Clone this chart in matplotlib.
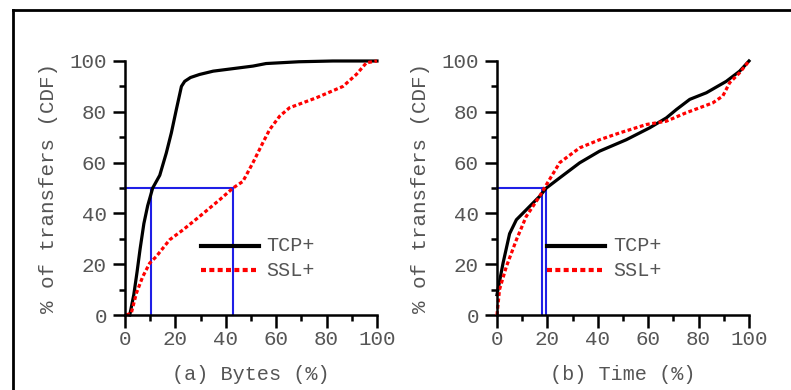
import matplotlib
matplotlib.use("Agg")
import matplotlib.pyplot as plt
from matplotlib.lines import Line2D
from matplotlib.ticker import MultipleLocator

# (a) Bytes
bytes_tcp_x = [1.9, 3.5, 4.8, 6, 7.5, 9, 11, 13.8, 16.4, 18.4, 20.4, 22.4, 23.7, 26, 29.6, 35, 42.9, 50.8, 56, 69, 82.5, 100]
bytes_tcp_y = [0, 8, 17, 26, 36, 43, 50, 55, 63.8, 71.7, 81, 90, 92, 93.5, 94.7, 96, 97, 98, 99, 99.7, 100, 100]
bytes_ssl_x = [0.5, 2.5, 4.5, 7, 9.8, 12.4, 17.7, 23, 29.6, 37.6, 42.9, 46.8, 50.8, 54.7, 57.4, 61.4, 65.3, 75.9, 86.5, 91.8, 95.8, 100]
bytes_ssl_y = [0, 0.7, 8.5, 15, 20.4, 23, 29.6, 33.5, 38.8, 45.4, 50, 52.6, 60, 67.8, 73, 78.3, 81.6, 85.5, 90, 94.7, 99.3, 100]

# (b) Time
time_tcp_x = [0, 0.4, 2.4, 5, 7.7, 11.6, 16.9, 19.6, 24.9, 32.8, 40.7, 51.3, 60.6, 67.2, 71.2, 76.5, 83.1, 91, 96.3, 100]
time_tcp_y = [8, 10, 20.4, 32, 37.5, 41.4, 46.7, 50, 54, 59.9, 64.5, 69, 73.7, 77.6, 80.9, 84.9, 87.5, 92, 96, 100]
time_ssl_x = [0, 1, 3.7, 7.7, 11.6, 16.9, 19.6, 24.9, 32.8, 40.7, 48.7, 59.3, 67.2, 75, 85.6, 89.6, 92.3, 96.3, 100]
time_ssl_y = [0, 10, 19, 29.6, 38.8, 46.7, 51.3, 60, 65.8, 69, 71.7, 75, 76.3, 79.6, 83.5, 86.2, 91.4, 95.4, 100]

# median guides: vertical x positions (horizontal runs to the largest)
bytes_medians = [10.5, 43]
time_medians = [17.7, 19.3]

panels = [
    ("(a) Bytes (%)", bytes_tcp_x, bytes_tcp_y, bytes_ssl_x, bytes_ssl_y, bytes_medians, (30, 53, 56)),
    ("(b) Time (%)", time_tcp_x, time_tcp_y, time_ssl_x, time_ssl_y, time_medians, (19.7, 43, 46)),
]

mono = "Liberation Mono"
grey = "#555555"

fig = plt.figure(figsize=(7.91, 3.90), dpi=100)
fig.add_artist(Line2D([0.0170, 0.0170], [-0.1, 0.975], transform=fig.transFigure, color="black", lw=2))
fig.add_artist(Line2D([0.0170, 1.1], [0.975, 0.975], transform=fig.transFigure, color="black", lw=2))

lefts = [0.158, 0.6283]
for left, (xlabel, tx, ty, sx, sy, med, leg) in zip(lefts, panels):
    ax = fig.add_axes([left, 0.1923, 0.3186, 0.6513])
    for s in ("top", "right"):
        ax.spines[s].set_visible(False)
    for s in ("left", "bottom"):
        ax.spines[s].set_linewidth(1.8)
    ax.set_xlim(0, 100)
    ax.set_ylim(0, 100)

    # blue median guides
    ax.plot([0, max(med)], [50, 50], color="#1f1fe6", lw=1.5, clip_on=False)
    for m in med:
        ax.plot([m, m], [0, 50], color="#1f1fe6", lw=1.5, clip_on=False)

    ax.plot(tx, ty, color="black", lw=2.3, clip_on=False)
    ax.plot(sx, sy, color="red", lw=2.3, ls=(0, (1.2, 0.8)), clip_on=False)

    # hand-placed legend
    x0, x1, xt = leg
    ax.plot([x0, x1], [27.2, 27.2], color="black", lw=3)
    ax.plot([x0, x1], [17.7, 17.7], color="red", lw=3, ls=(0, (1.2, 0.8)))
    ax.text(xt, 27.2, "TCP+", fontsize=14.5, family=mono, color=grey, va="center")
    ax.text(xt, 17.7, "SSL+", fontsize=14.5, family=mono, color=grey, va="center")

    ax.xaxis.set_major_locator(MultipleLocator(20))
    ax.xaxis.set_minor_locator(MultipleLocator(10))
    ax.yaxis.set_major_locator(MultipleLocator(20))
    ax.yaxis.set_minor_locator(MultipleLocator(10))
    ax.tick_params(which="major", direction="out", length=9, width=1.8, labelsize=15, labelcolor=grey)
    ax.tick_params(which="minor", direction="out", length=4, width=1.8)
    ax.tick_params(axis="x", pad=2)
    ax.tick_params(axis="y", pad=4)
    for lab in ax.get_xticklabels() + ax.get_yticklabels():
        lab.set_family(mono)
    ax.set_xlabel(xlabel, family=mono, fontsize=14.5, color=grey, labelpad=11)
    ax.set_ylabel("% of transfers (CDF)", family=mono, fontsize=15, color=grey, labelpad=8)

fig.savefig("out.png", dpi=100)
